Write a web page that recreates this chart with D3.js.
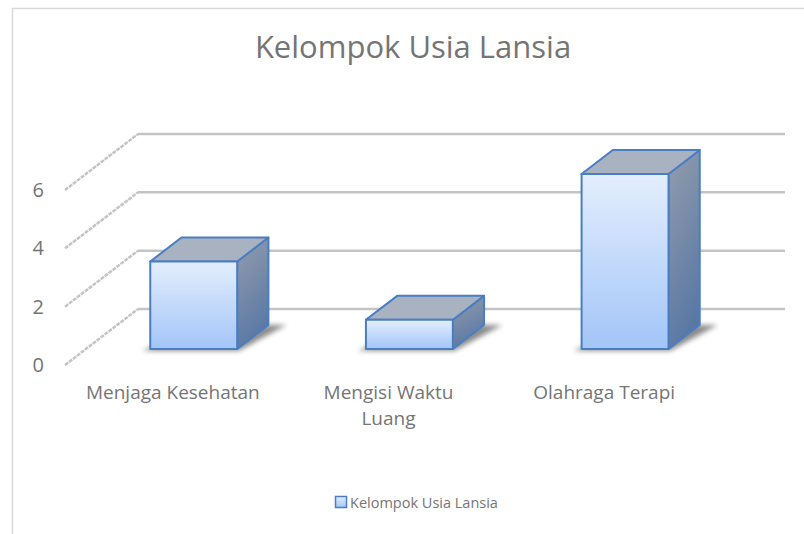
<!DOCTYPE html>
<html>
<head>
<meta charset="utf-8">
<script src="https://cdn.jsdelivr.net/npm/d3@7"></script>
<style>
  html, body { margin: 0; padding: 0; background: #fff; }
  svg { display: block; font-family: 'Open Sans', sans-serif; }
</style>
</head>
<body>
<div id="chart"></div>
<script>
const categories = ['Menjaga Kesehatan', 'Mengisi Waktu Luang', 'Olahraga Terapi'];
const values = [3, 1, 6];
const yTicks = [0, 2, 4, 6];
const seriesName = 'Kelompok Usia Lansia';
const chartTitle = 'Kelompok Usia Lansia';

const width = 804;
const height = 534;
const textColor = '#757575';

// oblique projection of the plot box
const origin = { x: 65, y: 365 };      // front-left corner of floor
const depth = { dx: 73, dy: -56 };     // full depth of the box
const plotWidth = 647;
const barFront = 0.286;
const barBack = 0.714;

const x = d3.scaleBand().domain(categories).range([0, plotWidth]).paddingInner(0.597).paddingOuter(0.2985);
const y = d3.scaleLinear().domain([0, 6]).range([0, 175]);

const P = (px, v, d) => [origin.x + px + d * depth.dx, origin.y - y(v) + d * depth.dy];

const svg = d3.select('#chart').append('svg').attr('width', width).attr('height', height);
const defs = svg.append('defs');

const frontGrad = defs.append('linearGradient').attr('id', 'front').attr('x1', 0).attr('y1', 0).attr('x2', 0).attr('y2', 1);
frontGrad.append('stop').attr('offset', '0%').attr('stop-color', '#e3eefd');
frontGrad.append('stop').attr('offset', '100%').attr('stop-color', '#a3c5f8');

const sideGrad = defs.append('linearGradient').attr('id', 'side').attr('x1', 0).attr('y1', 0).attr('x2', 0.3).attr('y2', 1);
sideGrad.append('stop').attr('offset', '0%').attr('stop-color', '#939dad');
sideGrad.append('stop').attr('offset', '100%').attr('stop-color', '#5b78a5');

defs.append('filter').attr('id', 'blur').attr('x', '-50%').attr('y', '-50%').attr('width', '200%').attr('height', '200%')
  .append('feGaussianBlur').attr('stdDeviation', 2.5);

// chart border
svg.append('rect')
  .attr('x', 12.5).attr('y', 8.5).attr('width', width).attr('height', height)
  .attr('fill', 'none').attr('stroke', '#d9d9d9').attr('stroke-width', 1.5);

svg.append('text')
  .attr('x', 413).attr('y', 58)
  .attr('text-anchor', 'middle')
  .attr('font-size', 31)
  .attr('fill', textColor)
  .text(chartTitle);

const grid = svg.append('g');
const line = d3.line();

// back wall gridlines
grid.selectAll('.back')
  .data(yTicks)
  .join('path')
  .attr('d', (t) => line([P(0, t, 1), P(plotWidth, t, 1)]))
  .attr('stroke', '#c4c4c4').attr('stroke-width', 2.5).attr('fill', 'none');

// side wall gridlines
grid.selectAll('.side')
  .data(yTicks)
  .join('path')
  .attr('d', (t) => line([P(0, t, 0), P(0, t, 1)]))
  .attr('stroke', '#c4c4c4').attr('stroke-width', 2.5).attr('stroke-dasharray', '4 1').attr('fill', 'none');

svg.append('g').selectAll('text')
  .data(yTicks)
  .join('text')
  .attr('x', origin.x - 21)
  .attr('y', (t) => P(0, t, 0)[1])
  .attr('dy', '0.35em')
  .attr('text-anchor', 'end')
  .attr('font-size', 20)
  .attr('fill', textColor)
  .text((t) => t);

const bars = categories.map((c, i) => ({ c, v: values[i], x0: x(c), x1: x(c) + x.bandwidth() }));
const barLayer = svg.append('g');

// floor shadows
barLayer.selectAll('.shadow')
  .data(bars)
  .join('path')
  .attr('d', (b) => line([
    P(b.x0 - 6, 0, barFront - 0.03),
    P(b.x1 + 4, 0, barFront - 0.03),
    P(b.x1 + 18, 0, barBack),
    P(b.x0 + 20, 0, barBack)
  ]) + 'Z')
  .attr('fill', '#000').attr('opacity', 0.45).attr('filter', 'url(#blur)');

const barGroups = barLayer.selectAll('.bar').data(bars).join('g');
const stroke = '#4a7ec2';

barGroups.append('path')
  .attr('d', (b) => line([P(b.x1, 0, barFront), P(b.x1, 0, barBack), P(b.x1, b.v, barBack), P(b.x1, b.v, barFront)]) + 'Z')
  .attr('fill', 'url(#side)').attr('stroke', stroke).attr('stroke-width', 2).attr('stroke-linejoin', 'round');

barGroups.append('path')
  .attr('d', (b) => line([P(b.x0, b.v, barFront), P(b.x1, b.v, barFront), P(b.x1, b.v, barBack), P(b.x0, b.v, barBack)]) + 'Z')
  .attr('fill', '#a9b2c1').attr('stroke', stroke).attr('stroke-width', 2).attr('stroke-linejoin', 'round');

barGroups.append('path')
  .attr('d', (b) => line([P(b.x0, 0, barFront), P(b.x1, 0, barFront), P(b.x1, b.v, barFront), P(b.x0, b.v, barFront)]) + 'Z')
  .attr('fill', 'url(#front)').attr('stroke', stroke).attr('stroke-width', 2).attr('stroke-linejoin', 'round');

// category labels, wrapped like the original
const wrapped = { 'Mengisi Waktu Luang': ['Mengisi Waktu', 'Luang'] };
const catLabels = svg.append('g').selectAll('text')
  .data(categories)
  .join('text')
  .attr('x', (c) => origin.x + x(c) + x.bandwidth() / 2)
  .attr('y', 399)
  .attr('text-anchor', 'middle')
  .attr('font-size', 19)
  .attr('fill', textColor);

catLabels.each(function (c) {
  const lines = wrapped[c] || [c];
  const cx = origin.x + x(c) + x.bandwidth() / 2;
  d3.select(this).selectAll('tspan')
    .data(lines)
    .join('tspan')
    .attr('x', cx)
    .attr('dy', (d, i) => (i === 0 ? 0 : 26))
    .text((d) => d);
});

// legend
const legend = svg.append('g').attr('transform', 'translate(335,496)');
legend.append('rect')
  .attr('x', 0.5).attr('y', 0.5).attr('width', 11).attr('height', 11)
  .attr('fill', 'url(#front)').attr('stroke', stroke).attr('stroke-width', 1.5);
legend.append('text')
  .attr('x', 15).attr('y', 12)
  .attr('font-size', 14.5)
  .attr('fill', textColor)
  .text(seriesName);
</script>
</body>
</html>
